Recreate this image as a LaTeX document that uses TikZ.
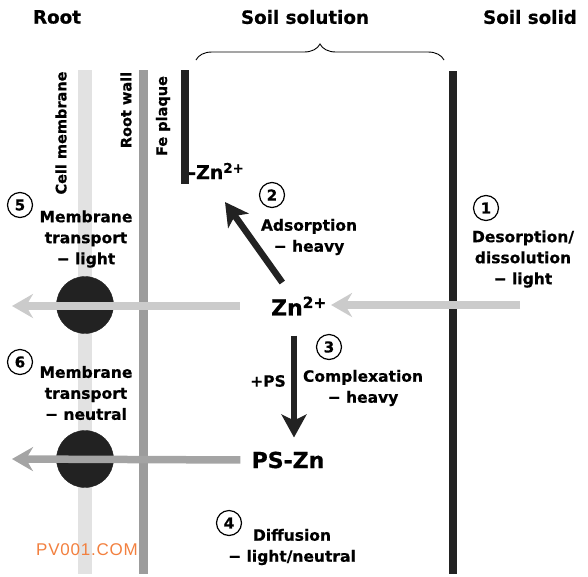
\documentclass[tikz,border=0pt]{standalone}
\usepackage{fontspec}
\setmainfont{DejaVu Sans}[BoldFeatures={FakeBold=0.6}]
\setsansfont{Liberation Sans}[LetterSpace=4.5]
\usetikzlibrary{arrows.meta,decorations.pathreplacing}
\definecolor{membranegray}{HTML}{E2E2E2}
\definecolor{wallgray}{HTML}{9C9C9C}
\definecolor{flowlightc}{HTML}{CBCBCB}
\definecolor{flowdarkc}{HTML}{A4A4A4}
\definecolor{barblack}{HTML}{222222}
\definecolor{markorange}{HTML}{F2803F}

\begin{document}
\begin{tikzpicture}[x=1pt, y=-1pt,
        head/.style={font=\fontsize{18.3}{20}\selectfont\bfseries},
        side/.style={rotate=90, font=\fontsize{14.5}{16}\selectfont\bfseries},
        proc/.style={align=center, font=\fontsize{15.5}{21}\selectfont\bfseries},
        num/.style={circle, draw, line width=1.2pt, minimum size=25pt, inner sep=0pt, font=\fontsize{15}{15}\selectfont\bfseries},
        species/.style={font=\fontsize{22}{24}\selectfont\bfseries, inner sep=4pt},
        flowlight/.style={draw=flowlightc, line width=7.5pt, -{Stealth[length=21pt,width=24pt,inset=7pt]}},
        flowdark/.style={draw=flowdarkc, line width=7.5pt, -{Stealth[length=21pt,width=24pt,inset=7pt]}},
        flowblack/.style={draw=barblack, line width=6.5pt, -{Stealth[length=23pt,width=25pt,inset=6pt]}}]
            \useasboundingbox (0,0) rectangle (588,576);

            \coordinate (bl) at (196,60);
            \coordinate (br) at (444,60);
            \coordinate (in1) at (520,305);
            \coordinate (out5) at (12,306);
            \coordinate (out6) at (12,459);
            \coordinate (adstip) at (225,202);

            \fill[membranegray] (78,70) rectangle (92,574);
            \fill[wallgray] (139,70) rectangle (148,574);
            \fill[barblack] (181,70) rectangle (189,184);
            \fill[barblack] (449,71) rectangle (457,574);

            \filldraw[barblack] (85,305) circle (28.5);
            \filldraw[barblack] (85,459) circle (28.5);

            \path (57,17) node[head] (root) {Root};
            \path (305,17) node[head] (solution) {Soil solution};
            \path (530,17) node[head] (solid) {Soil solid};
            \draw[decorate, decoration={brace, amplitude=16pt}, line width=0.9pt] (bl) -- (br);

            \path (61,133) node[side] (cellm) {Cell membrane};
            \path (126,110) node[side] (wall) {Root wall};
            \path (163,116) node[side] (fe) {Fe plaque};

            \path (187,171) node[anchor=west, inner sep=1pt, font=\fontsize{19}{20}\selectfont\bfseries] (fezn) {-Zn\textsuperscript{2+}};
            \path (299,306) node[species] (zn) {Zn\textsuperscript{2+}};
            \path (288,460) node[species] (pszn) {PS-Zn};

            \path (486,208) node[num] (n1) {1};
            \path (523,259) node[proc] (desorb) {Desorption/\\dissolution\\− light};
            \path (272,195) node[num] (n2) {2};
            \path (309,237) node[proc] (adsorb) {Adsorption\\− heavy};
            \path (329,347) node[num] (n3) {3};
            \path (363,388) node[proc] (complex) {Complexation\\− heavy};
            \path (268,381) node[proc] (ps) {+PS};
            \path (229,523) node[num] (n4) {4};
            \path (292,547) node[proc] (diff) {Diffusion\\− light/neutral};
            \path (20,205) node[num] (n5) {5};
            \path (86,239) node[proc] (mem5) {Membrane\\transport\\− light};
            \path (20,362) node[num] (n6) {6};
            \path (86,393) node[proc] (mem6) {Membrane\\transport\\− neutral};

            \path (87,550) node[text=markorange, font=\sffamily\fontsize{17}{18}\selectfont, inner sep=0pt] (mark) {PV001.COM};

            \draw[flowlight] (in1) -- (in1 -| zn.east);
            \draw[flowlight, shorten <=27pt] (zn.west) -- (out5);
            \draw[flowdark, shorten <=7pt] (pszn.west) -- (out6);
            \draw[flowblack, shorten <=12pt] (zn) -- (adstip);
            \draw[flowblack, shorten <=16pt, shorten >=10pt] ([xshift=-5pt]zn.south) -- ([xshift=6pt]pszn.north);
        \end{tikzpicture}
\end{document}
